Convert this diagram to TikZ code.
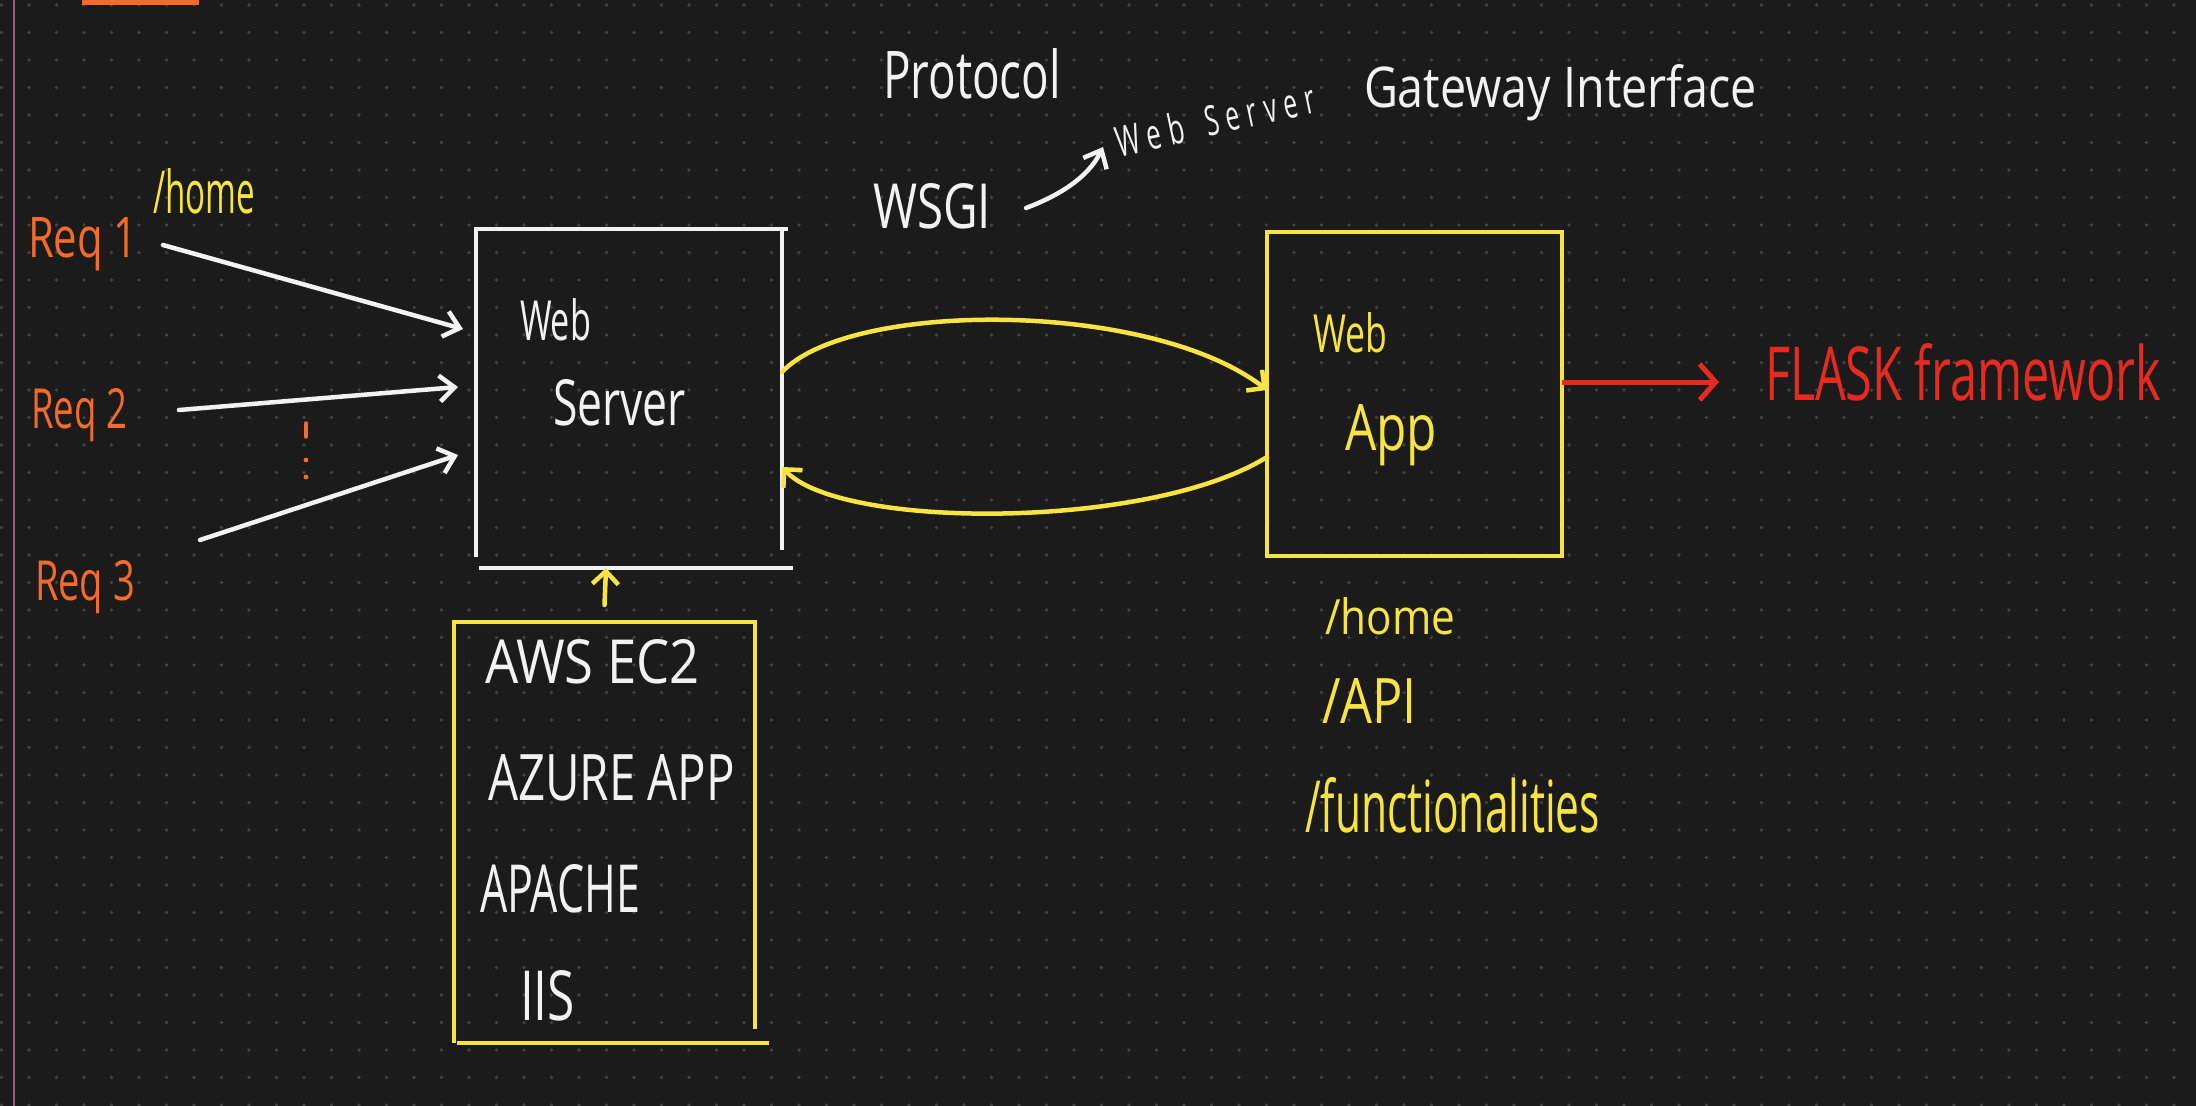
\documentclass[tikz,border=0pt]{standalone}
\usepackage{fontspec}
\setmainfont{Open Sans}
\usepackage{graphicx}
\usetikzlibrary{arrows.meta}
\definecolor{bgc}{HTML}{1B1B1B}
\definecolor{dotc}{HTML}{414141}
\definecolor{hwwhite}{HTML}{F2F2F2}
\definecolor{hwyellow}{HTML}{F7E442}
\definecolor{hworange}{HTML}{F26B2A}
\definecolor{hwred}{HTML}{E52A20}
\definecolor{pinkline}{HTML}{9C5C7C}
\newcommand{\hw}[3]{\resizebox{#1pt}{#2pt}{#3}}
\begin{document}
\begin{tikzpicture}[x=1pt,y=-1pt,
  hwt/.style={inner sep=0pt, outer sep=0pt, anchor=base west},
  boxnode/.style={inner sep=0pt, outer sep=0pt, rectangle},
  wline/.style={draw=hwwhite, line width=4.5pt},
  yline/.style={draw=hwyellow, line width=4.5pt},
  warrow/.style={draw=hwwhite, line width=4.5pt, line cap=round, -{Straight Barb[length=15pt,width=26pt,line width=4.5pt]}},
  yarrow/.style={draw=hwyellow, line width=4.5pt, line cap=round, -{Straight Barb[length=13pt,width=26pt,line width=4.5pt]}},
  rarrow/.style={draw=hwred, line width=5pt, -{Straight Barb[length=16pt,width=36pt,line width=5pt]}}]
\fill[bgc] (0,0) rectangle (2196,1106);
\useasboundingbox (0,0) rectangle (2196,1106);
\foreach \i in {0,...,79} {\foreach \j in {0,...,40} {\fill[dotc] (1.5+27.5*\i, 5+27.5*\j) circle (1.8);}}
% margin line and cut-off bar
\draw[pinkline, line width=1.5pt] (14,0) -- (14,1106);
\fill[hworange] (82,0) rectangle (199,5);

% boxes
\node[boxnode, minimum width=306pt, minimum height=328pt] (ws) at (629,393) {};
\node[boxnode, minimum width=295pt, minimum height=324pt] (wa) at (1414.5,394) {};
\node[boxnode, minimum width=301pt, minimum height=421pt] (hb) at (604.5,832.5) {};

\draw[wline] (ws.south west) -- (ws.north west) -- ([xshift=6pt]ws.north east);
\draw[wline] (ws.north east) -- ([yshift=7pt]ws.south east);
\coordinate (sbl) at (479,568);
\coordinate (sbr) at (793,568);
\draw[wline] (sbl) -- (sbr);

\draw[yline] (wa.north west) rectangle (wa.south east);

\draw[yline] (hb.south west) -- (hb.north west) -- (hb.north east) -- ([yshift=14pt]hb.south east);
\draw[yline] ([xshift=3pt]hb.south west) -- ([xshift=14pt]hb.south east);

% texts
\node[hwt, text=hworange] (req1) at (28,257) {\hw{110}{40}{Req 1}};
\node[hwt, text=hworange] (req2) at (31,428) {\hw{96}{40}{Req 2}};
\node[hwt, text=hworange] (req3) at (35,600) {\hw{100}{40}{Req 3}};
\node[hwt, text=hwyellow] (home1) at (153,213) {\hw{102}{45}{/home}};

\node[hwt, text=hwwhite] (proto) at (883,98) {\hw{178}{50}{Protocol}};
\node[hwt, text=hwwhite] (wsgi) at (873,228) {\hw{118}{45}{WSGI}};
\node[hwt, text=hwwhite, rotate=12] (wsgiweb) at (1119,157) {\hw{70}{32}{\addfontfeature{LetterSpace=30}Web}};
\node[hwt, text=hwwhite, rotate=12] (wsgiserver) at (1208,136) {\hw{112}{30}{\addfontfeature{LetterSpace=30}Server}};
\node[hwt, text=hwwhite] (gate) at (1364,107) {\hw{393}{43}{Gateway Interface}};

\node[hwt, text=hwwhite] (wsweb) at (520,340) {\hw{71}{42}{Web}};
\node[hwt, text=hwwhite] (wsserver) at (553,425) {\hw{133}{46}{Server}};
\node[hwt, text=hwyellow] (waweb) at (1313,352) {\hw{74}{40}{Web}};
\node[hwt, text=hwyellow] (waapp) at (1345,450) {\hw{92}{46}{App}};
\node[hwt, text=hwred] (flask) at (1765,400) {\hw{396}{57}{FLASK framework}};

\node[hwt, text=hwwhite] (aws) at (485,683) {\hw{215}{44}{AWS EC2}};
\node[hwt, text=hwwhite] (azure) at (488,800) {\hw{247}{46}{AZURE APP}};
\node[hwt, text=hwwhite] (apache) at (480,912) {\hw{160}{48}{APACHE}};
\node[hwt, text=hwwhite] (iis) at (520,1020) {\hw{55}{50}{IIS}};

\node[hwt, text=hwyellow] (home2) at (1325,634) {\hw{130}{37}{/home}};
\node[hwt, text=hwyellow] (api) at (1322,723) {\hw{95}{45}{/API}};
\node[hwt, text=hwyellow] (func) at (1305,832) {\hw{295}{55}{/functionalities}};

% request arrows
\coordinate (r1s) at (163,245);
\coordinate (r1e) at (463,329);
\coordinate (r2s) at (179,410);
\coordinate (r2e) at (458,387);
\coordinate (r3s) at (200,540);
\coordinate (r3e) at (458,455);
\draw[warrow] (r1s) -- (r1e);
\draw[warrow] (r2s) -- (r2e);
\draw[warrow] (r3s) -- (r3e);
\draw[hworange, line width=3.5pt, line cap=round] (306,423) -- (306,437);
\fill[hworange] (306,460) circle (2.4);
\fill[hworange] (306,477) circle (2.4);

% WSGI curved arrow
\coordinate (wsgis) at (1026,208);
\coordinate (wsgie) at (1103,147);
\draw[warrow] (wsgis) .. controls (1058,196) and (1088,178) .. (wsgie);

% yellow round trip
\draw[yarrow] ([yshift=21pt]ws.east) .. controls (850,300) and (1150,300) .. ([yshift=4pt]wa.west);
\draw[yarrow] ([yshift=-63pt]wa.west) .. controls (1150,530) and (840,530) .. ([yshift=-74pt]ws.east);

% hosting to server
\draw[yarrow] ([yshift=17pt]hb.north) -- ([xshift=127pt]sbl);

% app to flask
\coordinate (flaskin) at (1719,382);
\draw[rarrow] ([yshift=12pt]wa.east) -- (flaskin);
\end{tikzpicture}
\end{document}
